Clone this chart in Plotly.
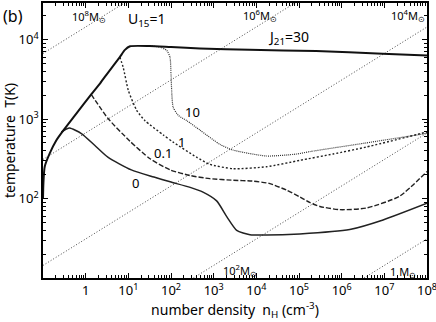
import numpy as np
import plotly.graph_objects as go

# values, as log10(n_H) / log10(T)
top_logn = [-1.0, -0.99, -0.96, -0.84, -0.69, -0.49, -0.26, 0.13, 0.34, 0.49, 0.8, 0.92, 1.04, 1.5, 2.0, 2.68, 3.84, 5.4, 6.96, 8.0]
top_logT = [2.0, 2.2, 2.4, 2.57, 2.73, 2.88, 3.04, 3.31, 3.45, 3.56, 3.78, 3.87, 3.915, 3.918, 3.905, 3.888, 3.872, 3.855, 3.822, 3.80]

u10_logn = [1.5, 1.75, 1.9, 1.976, 2.0, 2.016, 2.05, 2.17, 2.37, 2.68, 3.15, 3.45, 4.24, 4.95, 5.25, 6.58, 8.0]
u10_logT = [3.918, 3.905, 3.863, 3.78, 3.57, 3.36, 3.15, 3.047, 2.98, 2.86, 2.68, 2.61, 2.535, 2.56, 2.59, 2.70, 2.82]

u1_logn = [0.8, 0.88, 1.0, 1.196, 1.39, 1.82, 2.05, 2.6, 2.91, 3.46, 4.24, 5.02, 5.8, 6.58, 8.0]
u1_logT = [3.78, 3.65, 3.36, 3.11, 2.98, 2.80, 2.71, 2.52, 2.43, 2.375, 2.40, 2.48, 2.56, 2.648, 2.837]

u01_logn = [0.13, 0.52, 1.04, 1.51, 1.98, 2.44, 2.91, 3.46, 3.9, 4.3, 4.71, 5.02, 5.25, 5.49, 5.96, 6.58, 7.36, 8.0]
u01_logT = [3.31, 3.01, 2.72, 2.50, 2.36, 2.29, 2.25, 2.23, 2.22, 2.19, 2.105, 2.02, 1.95, 1.90, 1.86, 1.88, 2.03, 2.34]

u0_logn = [-0.57, -0.45, -0.374, -0.1, 0.21, 0.52, 1.07, 1.6, 1.98, 2.45, 2.75, 3.07, 3.31, 3.54, 3.85, 4.24, 5.02, 6.19, 6.97, 8.0]
u0_logT = [2.837, 2.875, 2.887, 2.817, 2.67, 2.52, 2.36, 2.27, 2.21, 2.14, 2.08, 1.97, 1.77, 1.60, 1.545, 1.54, 1.555, 1.61, 1.73, 1.94]

# Jeans mass lines, end points at n = 0.1 and n = 1e8
jeans_logn = [-1.0, 8.0]
jeans_logT = {
    "1e8": [3.825, 6.825],
    "1e6": [2.492, 5.492],
    "1e4": [1.158, 4.158],
    "1e2": [-0.175, 2.825],
    "1": [-1.508, 1.492],
}

font = "Noto Sans"
fig = go.Figure()

for key, lt in jeans_logT.items():
    fig.add_trace(go.Scatter(x=np.power(10.0, jeans_logn), y=np.power(10.0, lt), mode="lines",
                             line=dict(color="#333", width=0.9, dash="1px,2px"), hoverinfo="skip"))

sm = 0.6
fig.add_trace(go.Scatter(x=np.power(10.0, u0_logn), y=np.power(10.0, u0_logT), mode="lines",
                         line=dict(color="#222", width=1.5, shape="spline", smoothing=sm), name="0"))
fig.add_trace(go.Scatter(x=np.power(10.0, u01_logn), y=np.power(10.0, u01_logT), mode="lines",
                         line=dict(color="#222", width=1.4, dash="5px,2px", shape="spline", smoothing=sm), name="0.1"))
fig.add_trace(go.Scatter(x=np.power(10.0, u1_logn), y=np.power(10.0, u1_logT), mode="lines",
                         line=dict(color="#222", width=1.4, dash="2px,2px", shape="spline", smoothing=sm), name="1"))
fig.add_trace(go.Scatter(x=np.power(10.0, u10_logn), y=np.power(10.0, u10_logT), mode="lines",
                         line=dict(color="#333", width=1.2, dash="1px,1px", shape="spline", smoothing=sm), name="10"))
fig.add_trace(go.Scatter(x=np.power(10.0, top_logn), y=np.power(10.0, top_logT), mode="lines",
                         line=dict(color="#111", width=2, shape="spline", smoothing=sm), name="top"))

xmajor = [10.0 ** k for k in range(0, 9)]
xtext = ["1"] + ["10<sup>%d</sup>" % k for k in range(1, 9)]
xminor = [m * 10.0 ** k for k in range(-1, 8) for m in range(2, 10)]
ymajor = [1e2, 1e3, 1e4]
ytext = ["10<sup>2</sup>", "10<sup>3</sup>", "10<sup>4</sup>"]
yminor = [m * 10.0 ** k for k in range(1, 5) for m in range(2, 10)]

axis_common = dict(type="log", showgrid=False, zeroline=False, showline=True, linecolor="black",
                   linewidth=1.5, mirror="ticks", ticks="inside", ticklen=5, tickcolor="black",
                   automargin=False, ticklabeloverflow="allow",
                   tickfont=dict(family=font, size=13, color="black"))

fig.update_xaxes(range=[-1, 8], tickmode="array", tickvals=xmajor, ticktext=xtext,
                 minor=dict(tickmode="array", tickvals=xminor, ticks="inside", ticklen=3, tickcolor="black"),
                 title=dict(text="number density  n<sub>H</sub> (cm<sup>-3</sup>)", font=dict(family=font, size=14, color="black"), standoff=4),
                 **axis_common)
fig.update_yaxes(range=[1, 4.46], tickmode="array", tickvals=ymajor, ticktext=ytext,
                 minor=dict(tickmode="array", tickvals=yminor, ticks="inside", ticklen=3, tickcolor="black"),
                 title=dict(text="temperature  T(K)", font=dict(family=font, size=14, color="black"), standoff=2),
                 **axis_common)

notes = [
    ("U<sub>15</sub>=1", 1.437, 4.25, 14),
    ("J<sub>21</sub>=30", 4.765, 4.03, 14),
    ("10<sup>8</sup>M<sub>⊙</sub>", 0.08, 4.29, 11),
    ("10<sup>6</sup>M<sub>⊙</sub>", 4.09, 4.30, 11),
    ("10<sup>4</sup>M<sub>⊙</sub>", 7.55, 4.30, 11),
    ("10<sup>2</sup>M<sub>⊙</sub>", 3.62, 1.09, 11),
    ("1 M<sub>⊙</sub>", 7.44, 1.08, 11),
    ("10", 2.5, 3.09, 13),
    ("1", 2.25, 2.71, 13),
    ("0.1", 1.812, 2.57, 13),
    ("0", 1.17, 2.19, 13),
]
for text, ax, ay, size in notes:
    fig.add_annotation(text=text, x=ax, y=ay, showarrow=False,
                       font=dict(family=font, size=size, color="black"))
fig.add_annotation(text="(b)", xref="paper", yref="paper", x=-0.11, y=1.0, xanchor="left", yanchor="top",
                   showarrow=False, font=dict(family=font, size=16, color="black"))

fig.update_layout(width=436, height=322, margin=dict(l=43, r=9, t=3, b=44),
                  paper_bgcolor="white", plot_bgcolor="white", showlegend=False)

fig.write_html("out.html", config={"displayModeBar": False},
               post_script="document.body.style.margin='0px';")
